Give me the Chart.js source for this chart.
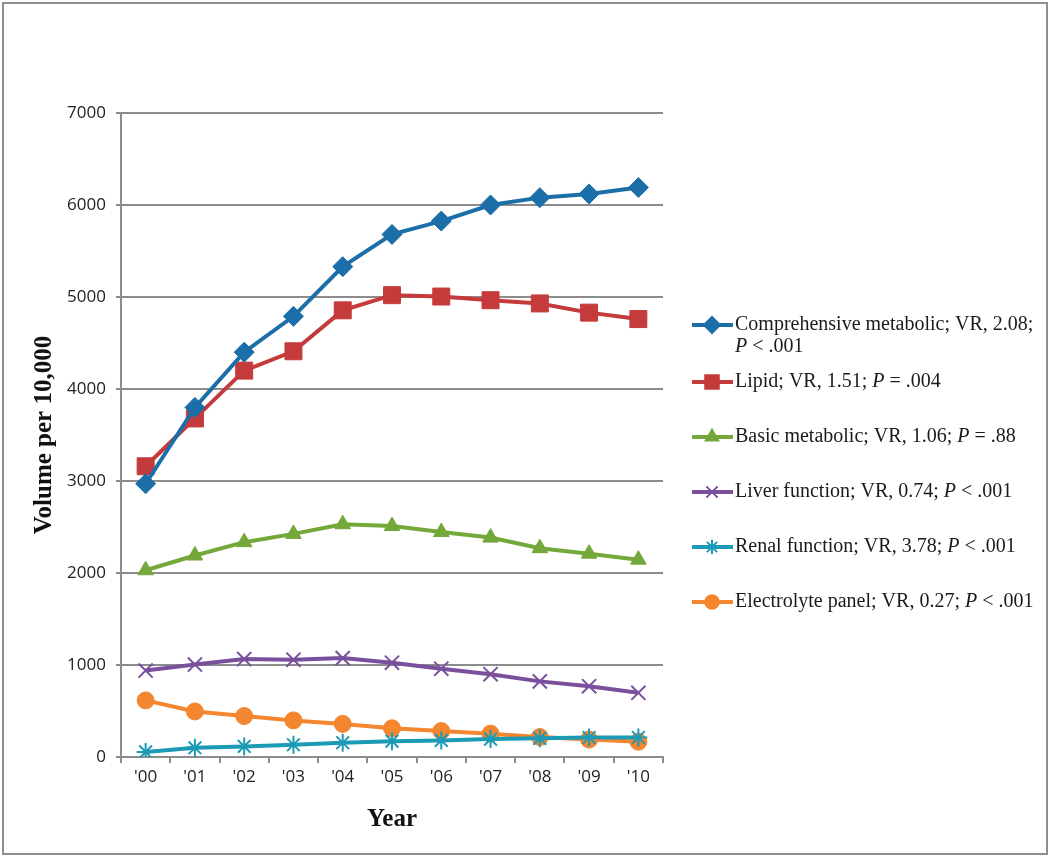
<!DOCTYPE html>
<html>
<head>
<meta charset="utf-8">
<script src="https://cdn.jsdelivr.net/npm/chart.js@4/dist/chart.umd.min.js"></script>
<style>
  html, body { margin: 0; padding: 0; background: #fff; }
  #wrap { position: relative; width: 1050px; height: 857px; }
  #frame { position: absolute; left: 2px; top: 2px; width: 1042px; height: 849px; border: 2px solid #8f8f8f; pointer-events: none; }
</style>
</head>
<body>
<div id="wrap">
  <canvas id="chart" width="1050" height="857"></canvas>
  <div id="frame"></div>
</div>
<script>
// values (volume per 10,000)
const years = ["'00", "'01", "'02", "'03", "'04", "'05", "'06", "'07", "'08", "'09", "'10"];
const comprehensive = [2970, 3800, 4400, 4790, 5330, 5680, 5825, 6000, 6080, 6120, 6190];
const lipid = [3160, 3680, 4200, 4410, 4855, 5020, 5005, 4965, 4930, 4830, 4760];
const basic = [2030, 2190, 2335, 2425, 2530, 2510, 2445, 2385, 2270, 2210, 2145];
const liver = [940, 1005, 1065, 1058, 1075, 1025, 960, 900, 822, 770, 698];
const renal = [55, 100, 115, 133, 155, 172, 180, 195, 203, 212, 212];
const electrolyte = [615, 495, 445, 398, 360, 312, 282, 254, 217, 189, 166];
const yTicks = [0, 1000, 2000, 3000, 4000, 5000, 6000, 7000];

const colors = ["#1c6ea9", "#c53a3a", "#74a83a", "#7a4f9c", "#1d9bb6", "#f4862f"];
const markers = ["rectRot", "rect", "triangle", "crossRot", "star", "circle"];
const radii = [10, 12, 9, 10, 9, 8.5];

// legend text, P in italics
const legendItems = [
  [[["Comprehensive metabolic; VR, 2.08;", false]], [["P", true], [" < .001", false]]],
  [[["Lipid; VR, 1.51; ", false], ["P", true], [" = .004", false]]],
  [[["Basic metabolic; VR, 1.06; ", false], ["P", true], [" = .88", false]]],
  [[["Liver function; VR, 0.74; ", false], ["P", true], [" < .001", false]]],
  [[["Renal function; VR, 3.78; ", false], ["P", true], [" < .001", false]]],
  [[["Electrolyte panel; VR, 0.27; ", false], ["P", true], [" < .001", false]]]
];
const legendRows = [325, 382, 437, 492, 547, 602];

const seriesData = [comprehensive, lipid, basic, liver, renal, electrolyte];

const sideLegend = {
  id: "sideLegend",
  afterDraw(chart) {
    const ctx = chart.ctx;
    ctx.save();
    legendItems.forEach((lines, i) => {
      const y = legendRows[i];
      ctx.strokeStyle = colors[i];
      ctx.fillStyle = colors[i];
      ctx.lineWidth = 4;
      ctx.beginPath();
      ctx.moveTo(692, y);
      ctx.lineTo(733, y);
      ctx.stroke();
      ctx.lineWidth = 2;
      Chart.helpers.drawPoint(ctx, {
        pointStyle: markers[i], radius: radii[i] * 0.8, borderWidth: 2
      }, 712, y);
      ctx.fillStyle = "#1a1a1a";
      ctx.textBaseline = "middle";
      lines.forEach((segs, li) => {
        let x = 735;
        segs.forEach(([t, it]) => {
          ctx.font = (it ? "italic " : "") + "20px 'Liberation Serif'";
          ctx.fillText(t, x, y + li * 22);
          x += ctx.measureText(t).width;
        });
      });
    });
    ctx.restore();
  }
};

const ctx = document.getElementById("chart").getContext("2d");

new Chart(ctx, {
  type: "line",
  data: {
    labels: years,
    datasets: seriesData.map((d, i) => ({
      label: legendItems[i][0].map(s => s[0]).join(""),
      data: d,
      borderColor: colors[i],
      backgroundColor: colors[i],
      pointBackgroundColor: colors[i],
      pointBorderColor: colors[i],
      pointStyle: markers[i],
      pointRadius: radii[i],
      pointBorderWidth: (markers[i] === "crossRot" || markers[i] === "star") ? 2 : 1,
      borderWidth: 4,
      tension: 0,
      order: i
    }))
  },
  options: {
    responsive: false,
    animation: false,
    layout: { padding: { left: 30, right: 387, top: 113, bottom: 18 } },
    plugins: {
      legend: { display: false },
      tooltip: { enabled: false }
    },
    scales: {
      x: {
        offset: true,
        grid: { offset: true, drawOnChartArea: false, drawTicks: true, tickLength: 6, color: "#8c8c8c", lineWidth: 2 },
        border: { color: "#8c8c8c", width: 2 },
        ticks: { color: "#222", font: { family: "'Open Sans'", size: 17 }, padding: 4, maxRotation: 0 },
        title: { display: true, text: "Year", color: "#111", font: { family: "'Liberation Serif'", size: 25, weight: "bold" }, padding: { top: 8 } },
        afterFit(scale) { scale.height = 857 - 757 - 18; }
      },
      y: {
        min: 0,
        max: 7000,
        afterBuildTicks(scale) { scale.ticks = yTicks.map(v => ({ value: v })); },
        grid: { color: "#8c8c8c", lineWidth: 2, tickLength: 5 },
        border: { color: "#8c8c8c", width: 2 },
        ticks: { color: "#222", font: { family: "'Open Sans'", size: 17 }, padding: 10, callback: v => String(v) },
        title: { display: true, text: "Volume per 10,000", color: "#111", font: { family: "'Liberation Serif'", size: 25, weight: "bold" }, padding: 0 },
        afterFit(scale) { scale.width = 121 - 30; }
      }
    }
  },
  plugins: [sideLegend]
});
</script>
</body>
</html>
